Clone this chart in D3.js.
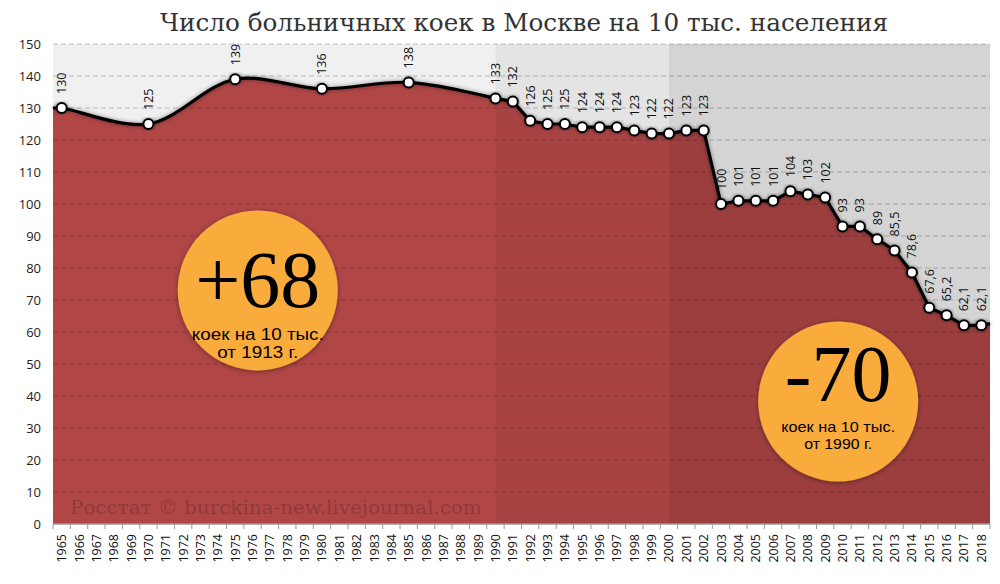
<!DOCTYPE html>
<html>
<head>
<meta charset="utf-8">
<script src="https://cdn.jsdelivr.net/npm/d3@7"></script>
<style>
  body { margin: 0; background: #fff; }
  text { font-family: "Open Sans", "DejaVu Sans", sans-serif; }
</style>
</head>
<body>
<div id="chart"></div>
<script>
// years on the category axis
let years = d3.range(1965, 2019)

// points that carry a value (1965-1990 every five years, then yearly)
let pointYears = [1965, 1970, 1975, 1980, 1985, 1990, 1991, 1992, 1993, 1994, 1995,
  1996, 1997, 1998, 1999, 2000, 2001, 2002, 2003, 2004, 2005, 2006, 2007, 2008,
  2009, 2010, 2011, 2012, 2013, 2014, 2015, 2016, 2017, 2018]
let beds = [130, 125, 139, 136, 138, 133, 132, 126, 125, 125, 124,
  124, 124, 123, 122, 122, 123, 123, 100, 101, 101, 101, 104, 103,
  102, 93, 93, 89, 85.5, 78.6, 67.6, 65.2, 62.1, 62.1]
let labels = ['130', '125', '139', '136', '138', '133', '132', '126', '125', '125', '124',
  '124', '124', '123', '122', '122', '123', '123', '100', '101', '101', '101', '104', '103',
  '102', '93', '93', '89', '85,5', '78,6', '67,6', '65,2', '62,1', '62,1']

let yTicks = d3.range(0, 151, 10)

// shaded periods
let periodBreaks = [1990, 2000]
let periodShade = [0.06, 0.105, 0.17]

// callout circles, anchored in data space
let badgeText = ['+68', '-70']
let badgeSub1 = ['коек на 10 тыс.', 'коек на 10 тыс.']
let badgeSub2 = ['от 1913 г.', 'от 1990 г.']
let badgeYear = [1976.3, 2009.75]
let badgeValue = [73, 38.3]

// text layout inside each circle
let badgeLayout = [
  { big: 17, sub1: 49.5, sub2: 68, subSize: 16, sub1W: 132, sub2W: 81 },
  { big: 0, sub1: 31, sub2: 48, subSize: 14.5, sub1W: 114, sub2W: 68 }
]

let title = 'Число больничных коек в Москве на 10 тыс. населения'
let source = 'Росстат © burckina-new.livejournal.com'

let width = 1000
let height = 584
let margin = { top: 44, left: 53, right: 10, bottom: 60 }
let plotRight = width - margin.right

let svg = d3
  .select('#chart')
  .append('svg')
  .attr('width', width)
  .attr('height', height)

let defs = svg.append('defs')
let sh = defs.append('filter').attr('id', 'shadow')
  .attr('x', '-20%').attr('y', '-20%').attr('width', '140%').attr('height', '140%')
sh.append('feDropShadow')
  .attr('dx', 0).attr('dy', 0).attr('stdDeviation', 2)
  .attr('flood-color', '#000').attr('flood-opacity', 0.45)
let sh2 = defs.append('filter').attr('id', 'badgeShadow')
  .attr('x', '-20%').attr('y', '-20%').attr('width', '140%').attr('height', '140%')
sh2.append('feDropShadow')
  .attr('dx', 0).attr('dy', 1).attr('stdDeviation', 2.5)
  .attr('flood-color', '#000').attr('flood-opacity', 0.4)

let xScale = d3.scaleBand()
  .domain(years)
  .range([margin.left, plotRight])
  .padding(0)

let cx = yr => xScale(yr) + xScale.bandwidth() / 2
// fractional year position, for the badges
let fx = yr => cx(Math.floor(yr)) + (yr - Math.floor(yr)) * xScale.bandwidth()

let yScale = d3.scaleLinear()
  .domain([0, 150])
  .range([524, margin.top])

let points = pointYears.map((yr, i) => ({ year: yr, value: beds[i], label: labels[i] }))

// title
svg.append('text')
  .attr('x', 524)
  .attr('y', 31)
  .attr('text-anchor', 'middle')
  .style('font-family', '"DejaVu Serif Condensed", "Liberation Serif", serif')
  .style('font-size', '25px')
  .attr('textLength', 728)
  .attr('lengthAdjust', 'spacingAndGlyphs')
  .attr('fill', '#333')
  .text(title)

// plot background
svg.append('rect')
  .attr('x', margin.left)
  .attr('y', yScale(150))
  .attr('width', plotRight - margin.left)
  .attr('height', yScale(0) - yScale(150))
  .attr('fill', '#fff')

// area under the line: smoothed up to 1990, straight afterwards
let first = points[0]
let last = points[points.length - 1]
let smoothPts = [{ x: margin.left, v: first.value }]
  .concat(points.filter(d => d.year <= 1990).map(d => ({ x: cx(d.year), v: d.value })))
let straightPts = points.filter(d => d.year >= 1990).map(d => ({ x: cx(d.year), v: d.value }))
  .concat([{ x: plotRight, v: last.value + 0.5 }])

let smoothLine = d3.line().x(d => d.x).y(d => yScale(d.v)).curve(d3.curveCatmullRom.alpha(0.5))
let straightLine = d3.line().x(d => d.x).y(d => yScale(d.v))

let pathD = smoothLine(smoothPts) + straightLine(straightPts).replace(/^M/, 'L')
let areaD = pathD + `L${plotRight},${yScale(0)}L${margin.left},${yScale(0)}Z`

svg.append('path')
  .attr('d', areaD)
  .attr('fill', '#bc4b4b')

// period shading over everything in the plot
let edges = [margin.left].concat(periodBreaks.map(cx), [plotRight])
svg.selectAll('.period')
  .data(periodShade)
  .enter()
  .append('rect')
  .attr('class', 'period')
  .attr('x', (d, i) => edges[i])
  .attr('width', (d, i) => edges[i + 1] - edges[i])
  .attr('y', yScale(150))
  .attr('height', yScale(0) - yScale(150))
  .attr('fill', '#000')
  .attr('opacity', d => d)

// grid lines
svg.selectAll('.grid')
  .data(yTicks.filter(d => d > 0))
  .enter()
  .append('line')
  .attr('class', 'grid')
  .attr('x1', margin.left)
  .attr('x2', plotRight)
  .attr('y1', d => yScale(d))
  .attr('y2', d => yScale(d))
  .attr('stroke', '#000')
  .attr('stroke-opacity', 0.22)
  .attr('stroke-dasharray', '5,3')

// source watermark
svg.append('text')
  .attr('x', 70)
  .attr('y', 514)
  .style('font-family', '"DejaVu Serif", "Liberation Serif", serif')
  .style('font-size', '18px')
  .attr('textLength', 412)
  .attr('lengthAdjust', 'spacingAndGlyphs')
  .attr('fill', '#000')
  .attr('opacity', 0.18)
  .text(source)

// y axis labels
svg.selectAll('.ylab')
  .data(yTicks)
  .enter()
  .append('text')
  .attr('class', 'ylab')
  .attr('x', 41)
  .attr('y', d => yScale(d) + 4.5)
  .attr('text-anchor', 'end')
  .style('font-size', '13px')
  .attr('fill', '#222')
  .text(d => d)

// x axis
let xAxis = svg.append('g').attr('transform', `translate(0,${yScale(0)})`)
xAxis.append('line')
  .attr('x1', margin.left).attr('x2', plotRight)
  .attr('stroke', '#999').attr('stroke-width', 1.5)
xAxis.selectAll('.xtick')
  .data(years.map(d => xScale(d)).concat([plotRight]))
  .enter()
  .append('line')
  .attr('x1', d => d)
  .attr('x2', d => d)
  .attr('y1', 0).attr('y2', 5)
  .attr('stroke', '#999')
xAxis.selectAll('.xlab')
  .data(years)
  .enter()
  .append('text')
  .attr('transform', d => `translate(${cx(d) + 4.5},10) rotate(-90)`)
  .attr('text-anchor', 'end')
  .style('font-size', '12.5px')
  .attr('fill', '#111')
  .text(d => d)

// line + markers
svg.append('path')
  .attr('d', pathD)
  .attr('fill', 'none')
  .attr('stroke', '#000')
  .attr('stroke-width', 3.2)
  .attr('filter', 'url(#shadow)')

svg.selectAll('.marker')
  .data(points)
  .enter()
  .append('circle')
  .attr('class', 'marker')
  .attr('cx', d => cx(d.year))
  .attr('cy', d => yScale(d.value))
  .attr('r', 5)
  .attr('fill', '#fff')
  .attr('stroke', '#000')
  .attr('stroke-width', 2)
  .attr('filter', 'url(#shadow)')

svg.selectAll('.vlab')
  .data(points)
  .enter()
  .append('text')
  .attr('class', 'vlab')
  .attr('transform', d => `translate(${cx(d.year) + 4.5},${yScale(d.value) - 14}) rotate(-90)`)
  .style('font-size', '12.5px')
  .attr('fill', '#111')
  .text(d => d.label)

// badges
let badge = svg.selectAll('.badge')
  .data(badgeText)
  .enter()
  .append('g')
  .attr('class', 'badge')
  .attr('transform', (d, i) => `translate(${fx(badgeYear[i])},${yScale(badgeValue[i])})`)

badge.append('circle')
  .attr('r', 80)
  .attr('fill', '#f9ac3b')
  .attr('filter', 'url(#badgeShadow)')

badge.append('text')
  .attr('y', (d, i) => badgeLayout[i].big)
  .attr('text-anchor', 'middle')
  .style('font-family', '"Liberation Serif", "DejaVu Serif", serif')
  .style('font-size', '80px')
  .attr('fill', '#000')
  .text(d => d)

badge.append('text')
  .attr('y', (d, i) => badgeLayout[i].sub1)
  .attr('text-anchor', 'middle')
  .style('font-family', '"Liberation Sans", Arial, sans-serif')
  .style('font-size', (d, i) => badgeLayout[i].subSize + 'px')
  .attr('textLength', (d, i) => badgeLayout[i].sub1W)
  .attr('lengthAdjust', 'spacingAndGlyphs')
  .attr('fill', '#000')
  .text((d, i) => badgeSub1[i])

badge.append('text')
  .attr('y', (d, i) => badgeLayout[i].sub2)
  .attr('text-anchor', 'middle')
  .style('font-family', '"Liberation Sans", Arial, sans-serif')
  .style('font-size', (d, i) => badgeLayout[i].subSize + 'px')
  .attr('textLength', (d, i) => badgeLayout[i].sub2W)
  .attr('lengthAdjust', 'spacingAndGlyphs')
  .attr('fill', '#000')
  .text((d, i) => badgeSub2[i])
</script>
</body>
</html>
